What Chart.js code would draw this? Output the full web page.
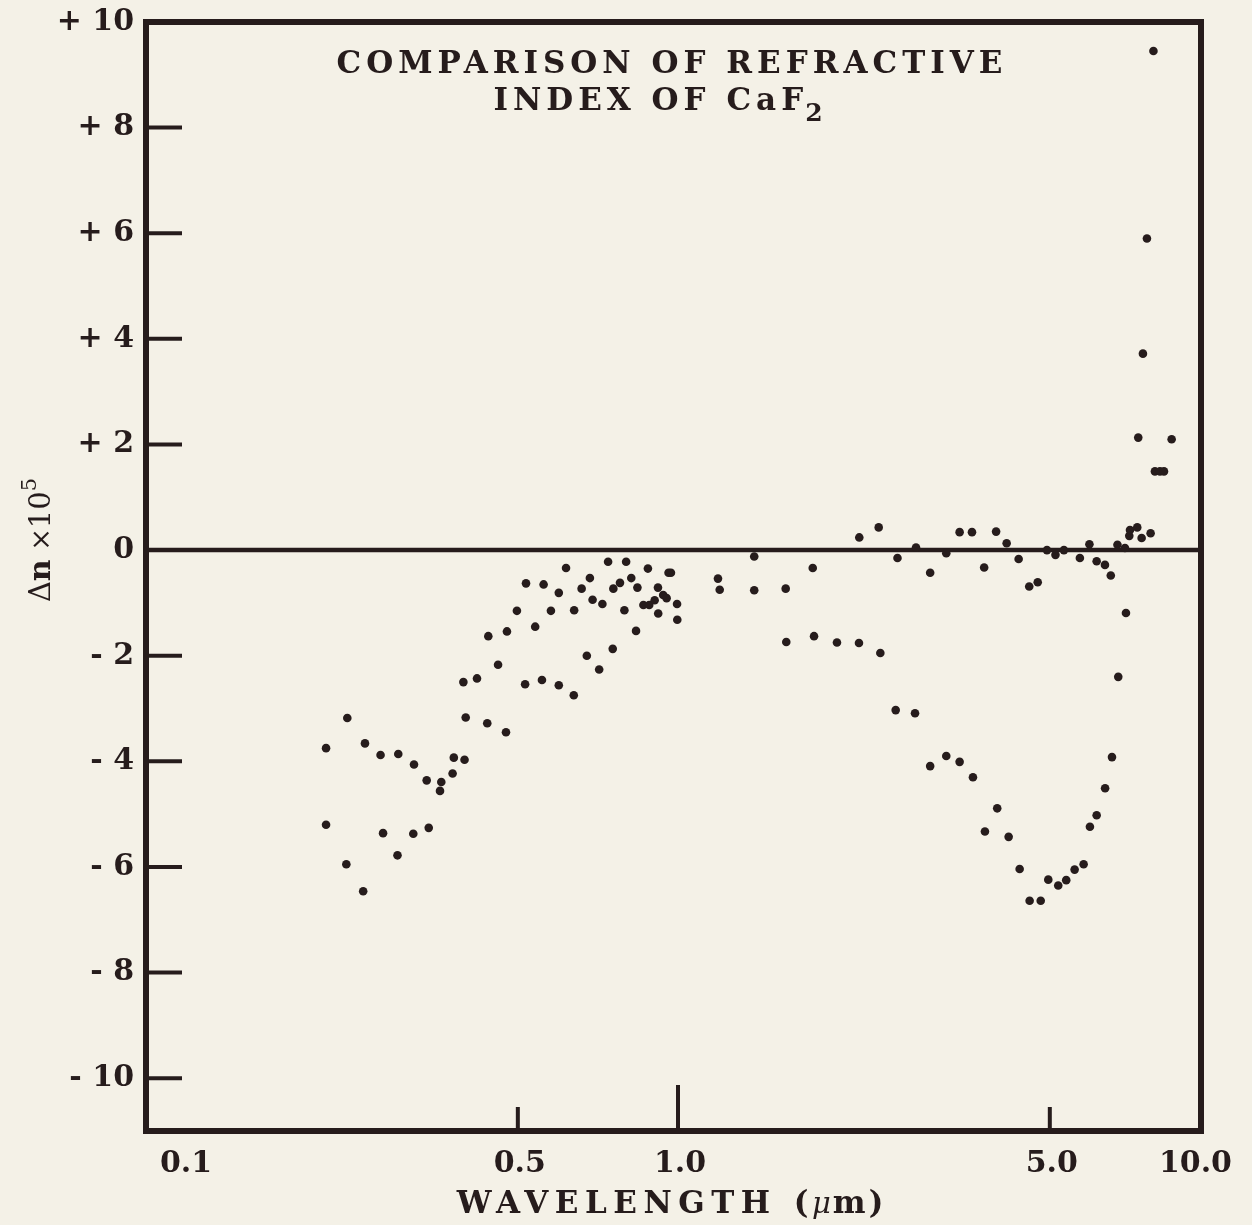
<!DOCTYPE html>
<html>
<head>
<meta charset="utf-8">
<title>Comparison of refractive index of CaF2</title>
<script src="https://cdn.jsdelivr.net/npm/chart.js@4.4.1/dist/chart.umd.min.js"></script>
<style>
  html, body { margin: 0; padding: 0; background: #f4f1e7; }
  canvas { display: block; }
</style>
</head>
<body>
<canvas id="grafico" width="1252" height="1225"></canvas>
<script>
// Puntos en la zona visible / UV cercano (longitud de onda en µm, Δn x 10^5)
const lambdaCorta = [
    0.218, 0.239, 0.258, 0.276, 0.298, 0.319, 0.337, 0.359, 0.357, 0.377, 0.379, 0.397,
    0.218, 0.279, 0.318, 0.340, 0.297, 0.238, 0.256,
    0.395, 0.419, 0.399, 0.438, 0.475, 0.440, 0.459, 0.477, 0.498, 0.518, 0.539,
    0.516, 0.555, 0.597, 0.637, 0.559, 0.577, 0.616, 0.597, 0.638, 0.659, 0.683,
    0.674, 0.711, 0.691, 0.721, 0.739, 0.799, 0.756, 0.778, 0.817, 0.839, 0.793,
    0.754, 0.834, 0.878, 0.970, 0.960, 0.917, 0.861, 0.883, 0.904, 0.938, 0.952,
    0.918, 0.996, 0.997
];
const deltaCorta = [
    -3.75, -3.18, -3.66, -3.88, -3.86, -4.06, -4.36, -4.39, -4.56, -4.23, -3.93, -3.97,
    -5.20, -5.36, -5.37, -5.26, -5.78, -5.95, -6.46,
    -2.50, -2.43, -3.17, -3.28, -3.45, -1.63, -2.17, -1.54, -1.15, -0.63, -1.45,
    -2.54, -2.46, -2.56, -2.75, -0.65, -1.15, -0.34, -0.81, -1.14, -0.73, -0.53,
    -2.00, -2.26, -0.94, -1.02, -0.22, -0.22, -0.73, -0.62, -0.53, -0.71, -1.14,
    -1.87, -1.53, -0.35, -0.43, -0.43, -0.71, -1.04, -1.04, -0.95, -0.85, -0.91,
    -1.20, -1.02, -1.32
];

// Puntos en el infrarrojo
const lambdaLarga = [
    1.189, 1.198, 1.391, 1.391, 1.594, 1.792, 1.598, 1.802, 1.990, 2.189, 2.401,
    2.192, 2.384, 2.586, 2.802, 2.979, 3.194,
    2.566, 2.790, 2.979, 3.194, 3.384, 3.585,
    3.384, 3.570, 3.963, 4.148, 3.763, 4.369, 4.574, 4.745,
    3.982, 3.776, 4.184,
    4.939, 5.124, 5.315, 5.695, 5.935, 6.124, 6.348, 6.510, 6.701,
    4.388, 4.582, 4.807, 4.967, 5.186, 5.368, 5.567, 5.788, 5.948, 6.124, 6.352,
    6.544, 6.724, 6.952,
    6.922, 7.053, 7.074, 7.300, 7.440, 7.735,
    7.332, 8.472, 7.881, 8.054, 8.195, 7.482, 7.613, 7.830
];
const deltaLarga = [
    -0.54, -0.75, -0.12, -0.76, -0.73, -0.34, -1.74, -1.63, -1.75, -1.76, -1.95,
    0.24, 0.43, -0.15, 0.05, -0.43, -0.06,
    -3.03, -3.09, -4.09, -3.90, -4.01, -4.30,
    0.34, 0.34, 0.35, 0.13, -0.33, -0.17, -0.69, -0.61,
    -4.89, -5.33, -5.43,
    0.00, -0.09, 0.00, -0.15, 0.11, -0.21, -0.28, -0.48, 0.10,
    -6.04, -6.64, -6.64, -6.24, -6.35, -6.25, -6.05, -5.95, -5.24, -5.02, -4.51,
    -3.92, -2.40, -1.19,
    0.04, 0.27, 0.38, 0.43, 0.23, 0.32,
    2.13, 2.10, 1.49, 1.49, 1.49, 3.72, 5.90, 9.45
];

// Ejes
const xTicks = [0.1, 0.5, 1, 5, 10];
const xTickLabels = ['0.1', '0.5', '1.0', '5.0', '10.0'];
const yTicks = [-10, -8, -6, -4, -2, 0, 2, 4, 6, 8, 10];

const tinta = '#261c1c';
const fondo = '#f4f1e7';
const serif = '"DejaVu Serif", "Liberation Serif", serif';

const puntos = lambdaCorta.map((x, i) => ({ x: x, y: deltaCorta[i] }))
    .concat(lambdaLarga.map((x, i) => ({ x: x, y: deltaLarga[i] })));

// Marco, línea de cero, marcas interiores y textos
const marco = {
    id: 'marco',
    beforeDraw(chart) {
        const c = chart.ctx;
        c.save();
        c.fillStyle = fondo;
        c.fillRect(0, 0, chart.width, chart.height);
        c.restore();
    },
    beforeDatasetsDraw(chart) {
        const c = chart.ctx;
        const a = chart.chartArea;
        const sx = chart.scales.x, sy = chart.scales.y;
        c.save();
        c.strokeStyle = tinta;
        c.lineCap = 'butt';

        // cero
        const y0 = sy.getPixelForValue(0);
        c.lineWidth = 4.5;
        c.beginPath();
        c.moveTo(a.left, y0);
        c.lineTo(a.right, y0);
        c.stroke();

        // marcas del eje y hacia dentro
        c.lineWidth = 4;
        yTicks.forEach(v => {
            if (v === 0 || v >= sy.max) return;
            const y = sy.getPixelForValue(v);
            c.beginPath();
            c.moveTo(a.left, y);
            c.lineTo(a.left + 36, y);
            c.stroke();
        });

        // marcas del eje x hacia dentro
        xTicks.forEach(v => {
            if (v <= sx.min || v >= sx.max) return;
            const x = sx.getPixelForValue(v);
            const largo = v === 1 ? 46 : 24;
            c.beginPath();
            c.moveTo(x, a.bottom);
            c.lineTo(x, a.bottom - largo);
            c.stroke();
        });

        // marco
        c.lineWidth = 6;
        c.lineJoin = 'miter';
        c.strokeRect(a.left, a.top, a.right - a.left, a.bottom - a.top);
        c.restore();
    },
    afterDraw(chart) {
        const c = chart.ctx;
        const sx = chart.scales.x;
        c.save();
        c.fillStyle = tinta;
        c.textBaseline = 'alphabetic';

        // etiquetas del eje x
        c.font = 'bold 30px ' + serif;
        xTicks.forEach((v, i) => {
            const x = sx.getPixelForValue(v);
            if (i === 0) {
                c.textAlign = 'left';
                c.fillText(xTickLabels[i], x + 14, 1172);
            } else if (i === xTicks.length - 1) {
                c.textAlign = 'right';
                c.fillText(xTickLabels[i], x + 22, 1172);
            } else {
                c.textAlign = 'center';
                c.fillText(xTickLabels[i], x + 2, 1172);
            }
        });

        // título dentro del gráfico
        c.textAlign = 'left';
        c.font = 'bold 31px ' + serif;
        c.letterSpacing = '5px';
        const l1 = 'COMPARISON OF REFRACTIVE';
        const w1 = c.measureText(l1).width;
        c.fillText(l1, 672 - w1 / 2, 73);
        const l2 = 'INDEX OF CaF';
        const w2 = c.measureText(l2).width;
        c.font = 'bold 25px ' + serif;
        const ws = c.measureText('2').width;
        const x2 = 662 - (w2 + ws) / 2;
        c.font = 'bold 31px ' + serif;
        c.fillText(l2, x2, 110);
        c.font = 'bold 25px ' + serif;
        c.fillText('2', x2 + w2 - 3, 121);

        // título del eje x
        c.font = 'bold 31px ' + serif;
        c.letterSpacing = '6.5px';
        const t1 = 'WAVELENGTH (';
        const tw1 = c.measureText(t1).width;
        c.letterSpacing = '0px';
        c.font = 'italic 29px ' + serif;
        const tw2 = c.measureText('\u03bc').width;
        c.font = 'bold 31px ' + serif;
        const tw3 = c.measureText('m)').width;
        let xt = 672 - (tw1 + tw2 + tw3 + 6) / 2;
        c.letterSpacing = '6.5px';
        c.fillText(t1, xt, 1213);
        xt += tw1 - 3;
        c.letterSpacing = '0px';
        c.font = 'italic 29px ' + serif;
        c.fillText('\u03bc', xt, 1213);
        xt += tw2 + 2;
        c.font = 'bold 31px ' + serif;
        c.letterSpacing = '3px';
        c.fillText('m)', xt, 1213);
        c.letterSpacing = '0px';

        // título del eje y (girado)
        c.translate(40, 540);
        c.rotate(-Math.PI / 2);
        const piezas = [
            { t: '\u0394', f: '29px ' + serif, dy: 0 },
            { t: 'n', f: 'bold 30px ' + serif, dy: 0 },
            { t: ' \u00d7', f: '27px ' + serif, dy: 0 },
            { t: '10', f: '29px ' + serif, dy: 0 },
            { t: '5', f: '21px ' + serif, dy: -14 }
        ];
        let total = 0;
        piezas.forEach(p => { c.font = p.f; total += c.measureText(p.t).width; });
        let xp = -total / 2;
        piezas.forEach(p => {
            c.font = p.f;
            c.fillText(p.t, xp, 10 + p.dy);
            xp += c.measureText(p.t).width;
        });
        c.restore();
    }
};

const ctx = document.getElementById('grafico').getContext('2d');
new Chart(ctx, {
    type: 'scatter',
    data: {
        datasets: [{
            data: puntos,
            pointRadius: 4.3,
            pointHoverRadius: 4.3,
            pointBackgroundColor: tinta,
            pointBorderWidth: 0
        }]
    },
    options: {
        responsive: false,
        animation: false,
        layout: { padding: { top: 20, right: 51, left: 0, bottom: 0 } },
        plugins: {
            legend: { display: false },
            tooltip: { enabled: false }
        },
        scales: {
            x: {
                type: 'logarithmic',
                min: 0.1,
                max: 9.62,
                grid: { display: false },
                border: { display: false },
                ticks: { display: false },
                afterFit: s => { s.height = 94; }
            },
            y: {
                min: -11,
                max: 10,
                grid: { display: false },
                border: { display: false },
                afterBuildTicks: s => { s.ticks = yTicks.map(v => ({ value: v })); },
                ticks: {
                    color: tinta,
                    padding: 4,
                    font: { family: serif, size: 30, weight: 'bold' },
                    callback: v => v > 0 ? '+ ' + v : (v < 0 ? '- ' + Math.abs(v) : '0')
                },
                afterFit: s => { s.width = 146; }
            }
        }
    },
    plugins: [marco]
});
</script>
</body>
</html>
